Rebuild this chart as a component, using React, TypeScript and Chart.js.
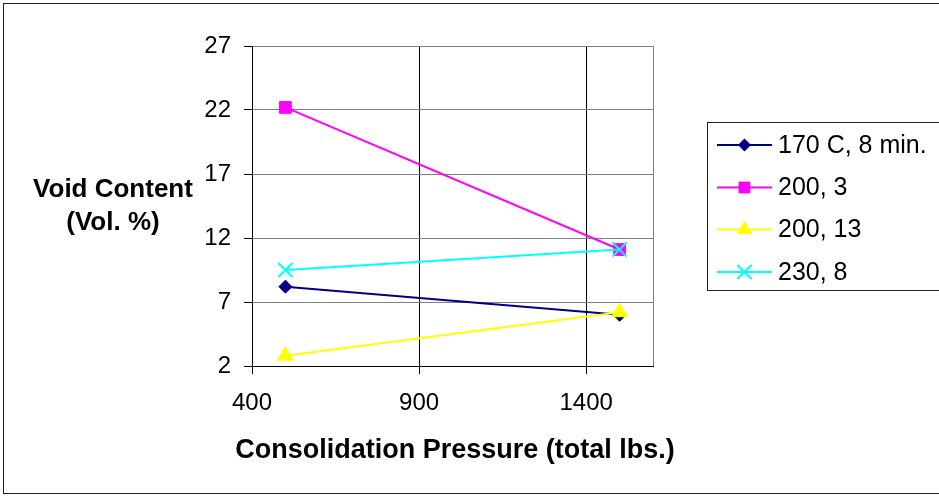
import React, { useEffect, useRef } from "react";
import { Chart, registerables } from "chart.js";

Chart.register(...registerables);

const pressures = [500, 1500];
const seriesNames = ["170 C, 8 min.", "200, 3", "200, 13", "230, 8"];
const s170_8 = [8.2, 6.0];
const s200_3 = [22.2, 11.1];
const s200_13 = [2.8, 6.2];
const s230_8 = [9.5, 11.1];
const xTicks = [400, 900, 1400];
const yTickMin = 2;
const yTickMax = 27;
const yStep = 5;
const xTitle = "Consolidation Pressure (total lbs.)";
const yTitleLines = ["Void Content", "(Vol. %)"];

const colors = ["#000080", "#FF00FF", "#FFFF00", "#00FFFF"];
const styles = ["rectRot", "rect", "triangle", "crossRot"];
const radii = [6.5, 8.3, 9, 10];

const FONT = "'Liberation Sans', Arial, Helvetica, sans-serif";

function drawMarker(ctx: CanvasRenderingContext2D, style: string, x: number, y: number, r: number, color: string) {
  ctx.save();
  ctx.fillStyle = color;
  ctx.strokeStyle = color;
  ctx.lineWidth = 2;
  ctx.beginPath();
  if (style === "rectRot") {
    ctx.moveTo(x, y - r);
    ctx.lineTo(x + r, y);
    ctx.lineTo(x, y + r);
    ctx.lineTo(x - r, y);
    ctx.closePath();
    ctx.fill();
  } else if (style === "rect") {
    const s = Math.SQRT1_2 * r;
    ctx.rect(x - s, y - s, 2 * s, 2 * s);
    ctx.fill();
  } else if (style === "triangle") {
    for (let i = 0; i < 3; i++) {
      const a = (i * 2 * Math.PI) / 3;
      const px = x + Math.sin(a) * r;
      const py = y - Math.cos(a) * r;
      if (i === 0) ctx.moveTo(px, py);
      else ctx.lineTo(px, py);
    }
    ctx.closePath();
    ctx.fill();
  } else {
    const d = Math.SQRT1_2 * r;
    ctx.moveTo(x - d, y - d);
    ctx.lineTo(x + d, y + d);
    ctx.moveTo(x + d, y - d);
    ctx.lineTo(x - d, y + d);
    ctx.stroke();
  }
  ctx.restore();
}

const decorPlugin = {
  id: "decor",
  beforeDraw(chart: any) {
    const ctx = chart.ctx as CanvasRenderingContext2D;
    ctx.save();
    ctx.fillStyle = "#ffffff";
    ctx.fillRect(0, 0, chart.width, chart.height);
    ctx.restore();
  },
  afterDraw(chart: any) {
    const ctx = chart.ctx as CanvasRenderingContext2D;
    const a = chart.chartArea;
    ctx.save();
    // plot area right border
    ctx.strokeStyle = "#808080";
    ctx.lineWidth = 1;
    ctx.beginPath();
    ctx.moveTo(Math.round(a.right) + 0.5, a.top);
    ctx.lineTo(Math.round(a.right) + 0.5, a.bottom);
    ctx.stroke();

    // outer frame
    ctx.strokeStyle = "#222222";
    ctx.lineWidth = 1;
    ctx.strokeRect(3.5, 3.5, chart.width + 10, chart.height - 6);

    // legend box
    ctx.strokeStyle = "#222222";
    ctx.strokeRect(707.5, 122.5, 260, 168);
    const rowsY = [145, 187.5, 229.5, 272];
    ctx.font = `25px ${FONT}`;
    ctx.textBaseline = "middle";
    ctx.textAlign = "left";
    seriesNames.forEach((name, i) => {
      const y = rowsY[i];
      ctx.strokeStyle = colors[i];
      ctx.lineWidth = 2;
      ctx.beginPath();
      ctx.moveTo(717, y);
      ctx.lineTo(772, y);
      ctx.stroke();
      drawMarker(ctx, styles[i], 744.5, y, radii[i], colors[i]);
      ctx.fillStyle = "#000000";
      ctx.fillText(name, 778, y + 1);
    });

    // axis titles
    ctx.fillStyle = "#000000";
    ctx.font = `bold 26px ${FONT}`;
    ctx.textAlign = "center";
    ctx.textBaseline = "alphabetic";
    ctx.fillText(yTitleLines[0], 113, 196.5);
    ctx.fillText(yTitleLines[1], 113, 229.5);
    ctx.font = `bold 27px ${FONT}`;
    ctx.fillText(xTitle, 455, 458);
    ctx.restore();
  },
};

export default function App() {
  const canvasRef = useRef<HTMLCanvasElement | null>(null);

  useEffect(() => {
    const canvas = canvasRef.current;
    if (!canvas) return;
    const datasets = [s170_8, s200_3, s200_13, s230_8].map((vals, i) => ({
      label: seriesNames[i],
      data: pressures.map((p, j) => ({ x: p, y: vals[j] })),
      order: 3 - i,
      borderColor: colors[i],
      backgroundColor: colors[i],
      borderWidth: 2,
      pointStyle: styles[i] as any,
      pointRadius: radii[i],
      pointBorderWidth: i === 3 ? 2 : 1,
      pointBorderColor: colors[i],
      pointBackgroundColor: colors[i],
      showLine: true,
      tension: 0,
      fill: false,
    }));

    const chart = new Chart(canvas, {
      type: "scatter",
      data: { datasets },
      plugins: [decorPlugin],
      options: {
        animation: false,
        responsive: false,
        devicePixelRatio: 1,
        layout: { padding: { top: 46, right: 286, bottom: 0, left: 0 } },
        plugins: {
          legend: { display: false },
          tooltip: { enabled: false },
          title: { display: false },
        },
        scales: {
          x: {
            type: "linear",
            min: 400,
            max: 1600,
            afterBuildTicks: (scale: any) => {
              scale.ticks = xTicks.map((v) => ({ value: v }));
            },
            afterFit: (scale: any) => {
              scale.height = 130;
            },
            ticks: {
              color: "#000000",
              font: { family: FONT, size: 24 },
              padding: 15,
              maxRotation: 0,
              autoSkip: false,
              callback: (v: any) => String(v),
            },
            grid: {
              color: "#000000",
              tickColor: "#000000",
              tickLength: 8,
              lineWidth: 1,
            },
            border: { color: "#000000", width: 1 },
          },
          y: {
            type: "linear",
            min: yTickMin,
            max: yTickMax,
            afterFit: (scale: any) => {
              scale.width = 252;
            },
            ticks: {
              stepSize: yStep,
              color: "#000000",
              font: { family: FONT, size: 24 },
              padding: 13,
              callback: (v: any) => String(v),
            },
            grid: {
              color: "#808080",
              tickColor: "#000000",
              tickLength: 8,
              lineWidth: 1,
            },
            border: { color: "#000000", width: 1 },
          },
        },
      },
    });
    return () => chart.destroy();
  }, []);

  return (
    <div style={{ position: "absolute", left: 0, top: 0, width: 939, height: 496 }}>
      <canvas ref={canvasRef} width={939} height={496} style={{ width: 939, height: 496, display: "block" }} />
    </div>
  );
}
